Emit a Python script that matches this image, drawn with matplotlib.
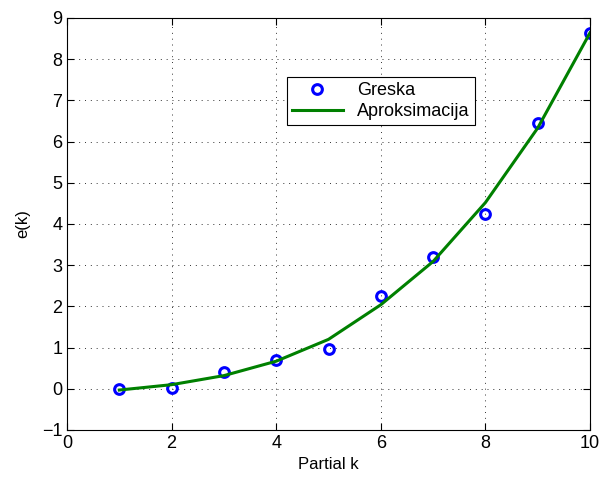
import matplotlib
matplotlib.use("Agg")
import matplotlib.pyplot as plt

# measured error values and the approximation curve
k = [1, 2, 3, 4, 5, 6, 7, 8, 9, 10]
greska = [0.0, 0.01, 0.41, 0.70, 0.96, 2.26, 3.20, 4.24, 6.45, 8.63]
aproksimacija = [-0.03, 0.10, 0.32, 0.67, 1.20, 2.04, 3.09, 4.52, 6.33, 8.64]

x_ticks = [0, 2, 4, 6, 8, 10]
y_ticks = [-1, 0, 1, 2, 3, 4, 5, 6, 7, 8, 9]

plt.rcParams['font.family'] = ['Liberation Sans', 'DejaVu Sans']

fig = plt.figure(figsize=(6.11, 4.79), dpi=100)
ax = fig.add_axes([67 / 611, 49 / 479, 523 / 611, 412 / 479])

ax.plot(k, greska, 'o', color='#0000ff', markerfacecolor='none',
        markersize=7, markeredgewidth=2.2, label='Greska')
ax.plot(k, aproksimacija, '-', color='#008000', linewidth=2.2,
        label='Aproksimacija')

ax.set_xlim(0, 10)
ax.set_ylim(-1, 9)
ax.set_xticks(x_ticks)
ax.set_yticks(y_ticks)
ax.tick_params(direction='in', top=True, right=True, labelsize=13,
               length=5, width=0.8)
ax.grid(True, linestyle=(0, (1, 5)), color='#333333', linewidth=0.7)
for s in ax.spines.values():
    s.set_linewidth(0.8)

ax.set_xlabel('Partial k', fontsize=12, labelpad=4)
ax.set_ylabel('e(k)', fontsize=12, labelpad=8)

leg = ax.legend(loc='upper left', bbox_to_anchor=(0.42, 0.857),
                fontsize=13, fancybox=False, framealpha=1,
                edgecolor='black', borderpad=0.3, handlelength=2.8,
                labelspacing=0.2, borderaxespad=0)
leg.get_frame().set_linewidth(0.8)

fig.savefig('out.png', dpi=100)
